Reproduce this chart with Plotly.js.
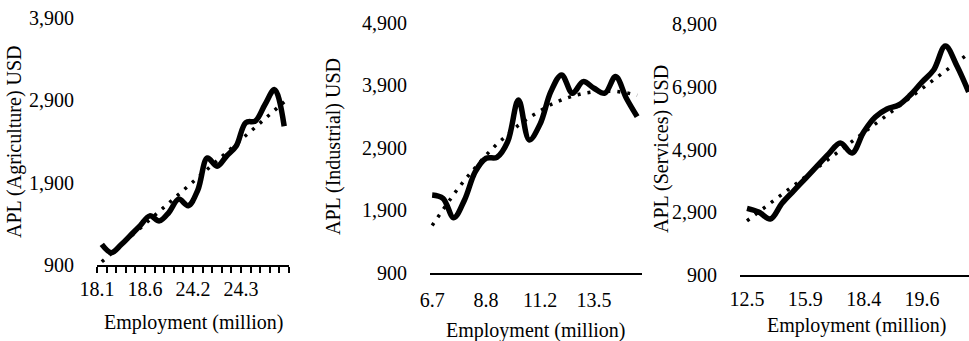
<!DOCTYPE html>
<html><head><meta charset="utf-8">
<script src="https://cdn.plot.ly/plotly-3.0.1.min.js"></script>
<style>html,body{margin:0;padding:0;background:#fff;} #chart{width:969px;height:341px;}</style>
</head><body><div id="chart"></div>
<script>
// ---- data ----
const labelIdx = [0, 5, 10, 15];
const xLabelsAgriculture = ['18.1', '18.6', '24.2', '24.3'];
const xLabelsIndustrial = ['6.7', '8.8', '11.2', '13.5'];
const xLabelsServices = ['12.5', '15.9', '18.4', '19.6'];

const aplAgriculture = [1150, 1050, 1145, 1262, 1378, 1497, 1436, 1540, 1700, 1620,
                        1810, 2200, 2100, 2224, 2345, 2630, 2650, 2850, 3030, 2585];
const aplIndustrial = [2145, 2092, 1780, 2065, 2519, 2733, 2749, 2999, 3667, 3027,
                       3280, 3800, 4068, 3775, 3961, 3855, 3775, 4041, 3695, 3400];
const aplServices = [3025, 2908, 2685, 3188, 3583, 3975, 4370, 4762, 5107, 4788,
                     5457, 5935, 6190, 6318, 6636, 7050, 7433, 8198, 7560, 6732];

const yTicksAgriculture = [900, 1900, 2900, 3900];
const yTicksIndustrial = [900, 1900, 2900, 3900, 4900];
const yTicksServices = [900, 2900, 4900, 6900, 8900];

const trendDegree = [1, 2, 1];
const yTitles = ['APL (Agriculture) USD', 'APL (Industrial) USD', 'APL (Services) USD'];
const xTitle = 'Employment (million)';

// ---- helpers ----
function polyfit(ys, deg) {
  const n = ys.length, m = deg + 1;
  const A = [], b = [];
  for (let i = 0; i < m; i++) { A.push(new Array(m).fill(0)); b.push(0); }
  for (let k = 0; k < n; k++) {
    for (let i = 0; i < m; i++) {
      b[i] += ys[k] * Math.pow(k, i);
      for (let j = 0; j < m; j++) A[i][j] += Math.pow(k, i + j);
    }
  }
  for (let c = 0; c < m; c++) {
    let p = c;
    for (let r = c + 1; r < m; r++) if (Math.abs(A[r][c]) > Math.abs(A[p][c])) p = r;
    [A[c], A[p]] = [A[p], A[c]]; [b[c], b[p]] = [b[p], b[c]];
    for (let r = c + 1; r < m; r++) {
      const f = A[r][c] / A[c][c];
      for (let j = c; j < m; j++) A[r][j] -= f * A[c][j];
      b[r] -= f * b[c];
    }
  }
  const coef = new Array(m).fill(0);
  for (let i = m - 1; i >= 0; i--) {
    let s = b[i];
    for (let j = i + 1; j < m; j++) s -= A[i][j] * coef[j];
    coef[i] = s / A[i][i];
  }
  return ys.map((_, k) => coef.reduce((acc, c, i) => acc + c * Math.pow(k, i), 0));
}

const series = [aplAgriculture, aplIndustrial, aplServices];
const idx = aplAgriculture.map((_, i) => i);
const FONT = 'Liberation Serif, Times New Roman, serif';
const traces = [];
series.forEach((ys, p) => {
  const xa = p === 0 ? 'x' : 'x' + (p + 1);
  const ya = p === 0 ? 'y' : 'y' + (p + 1);
  traces.push({x: idx, y: polyfit(ys, trendDegree[p]), xaxis: xa, yaxis: ya, mode: 'lines',
    line: {color: '#000', width: 3.5, dash: '3px,7px'}, hoverinfo: 'skip'});
  traces.push({x: idx, y: ys, xaxis: xa, yaxis: ya, mode: 'lines',
    line: {color: '#000', width: 5.5, shape: 'spline', smoothing: 1}});
});

const W = 969, H = 341;
function xAxis(l, r, range, labels, standoff) {
  return {domain: [l / W, r / W], range: range, showline: true, linecolor: '#000', linewidth: 2,
    showgrid: false, zeroline: false, tickmode: 'array', tickvals: labelIdx, ticktext: labels,
    ticks: '', tickfont: {family: FONT, size: 20, color: '#000'}, ticklabelstandoff: standoff, fixedrange: true};
}
function yAxis(bot, top, range, ticks, anchor) {
  return {domain: [1 - bot / H, 1 - top / H], range: range, showline: false, showgrid: false,
    zeroline: false, tickmode: 'array', tickvals: ticks, tickformat: ',', ticks: '',
    tickfont: {family: FONT, size: 20, color: '#000'}, ticklabelstandoff: 22, anchor: anchor, fixedrange: true};
}

// First panel: tick marks sit on category boundaries, labels are shifted to the category centres
const boundaries = idx.concat([idx.length]).map(k => k - 0.5);
const x1 = {
  domain: [97 / W, 289 / W], range: [-0.5, 19.5], showline: true, linecolor: '#000', linewidth: 2,
  showgrid: false, zeroline: false, tickmode: 'array', tickvals: boundaries,
  ticktext: boundaries.map(b => {
    const j = labelIdx.indexOf(b + 0.5);
    return j >= 0 ? xLabelsAgriculture[j] : '';
  }),
  ticks: 'outside', ticklen: 6, tickwidth: 2, tickcolor: '#000',
  tickfont: {family: FONT, size: 20, color: '#000'}, ticklabelshift: 4.8, ticklabelstandoff: -1, fixedrange: true
};

const ann = [];
const yt = [[14, 142], [333, 147], [661, 149]];
const xt = [[193, 322], [535, 330], [856, 325]];
for (let p = 0; p < 3; p++) {
  ann.push({text: yTitles[p], xref: 'paper', yref: 'paper', x: yt[p][0] / W, y: 1 - yt[p][1] / H,
    xanchor: 'center', yanchor: 'middle', textangle: -90, showarrow: false,
    font: {family: FONT, size: 20, color: '#000'}});
  ann.push({text: xTitle, xref: 'paper', yref: 'paper', x: xt[p][0] / W, y: 1 - xt[p][1] / H,
    xanchor: 'center', yanchor: 'middle', showarrow: false,
    font: {family: FONT, size: 20, color: '#000'}});
}

const layout = {
  width: W, height: H, margin: {l: 0, r: 0, t: 0, b: 0}, showlegend: false,
  paper_bgcolor: '#fff', plot_bgcolor: '#fff',
  xaxis: x1,
  yaxis: yAxis(265, 18, [900, 3900], yTicksAgriculture, 'x'),
  xaxis2: xAxis(430, 642, [-0.2, 19.45], xLabelsIndustrial, 8),
  yaxis2: yAxis(272.7, 23, [900, 4900], yTicksIndustrial, 'x2'),
  xaxis3: xAxis(740, 969, [-0.6, 19.03], xLabelsServices, 5),
  yaxis3: yAxis(275, 24, [900, 8900], yTicksServices, 'x3'),
  annotations: ann
};
layout.xaxis.anchor = 'y'; layout.xaxis2.anchor = 'y2'; layout.xaxis3.anchor = 'y3';

Plotly.newPlot('chart', traces, layout, {displayModeBar: false, staticPlot: true});
</script></body></html>
